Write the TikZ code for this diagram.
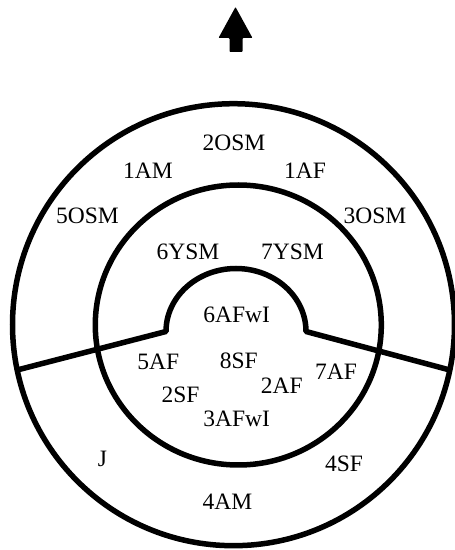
\documentclass[tikz,border=0pt]{standalone}
\usepackage{fontspec}
\setmainfont{Liberation Serif}
\begin{document}
\begin{tikzpicture}[x=1pt,y=1pt,
  ring/.style={line width=5.5pt, draw=black},
  lbl/.style={anchor=base, inner sep=0pt, font=\fontsize{23.5}{24}\selectfont}]
\useasboundingbox (0,0) rectangle (455,550);
% rings
\coordinate (O) at (233.5,225.3);
\coordinate (M) at (238.3,225);
\draw[ring] (O) circle[radius=221];
\draw[ring] (M) ellipse[x radius=143, y radius=140];
% dividing line with inner semicircle
\coordinate (Lout) at (17.2,180);
\coordinate (Rout) at (449.8,180);
\coordinate (Lin) at (166,218.5);
\coordinate (Rin) at (306,218.5);
\draw[ring, line join=round] (Lout) -- (Lin) arc[start angle=180, end angle=0, x radius=70, y radius=63] -- (Rout);
% north arrow
\fill[black, rounded corners=0.8pt] (235.5,543) -- (252.5,512) -- (242.5,512) -- (242.5,498)
  -- (229.5,498) -- (229.5,512) -- (218.5,512) -- cycle;
% labels
\node[lbl] (l2osm) at (234,399) {2OSM};
\node[lbl] (l1am) at (148,371.7) {1AM};
\node[lbl] (l1af) at (305,371.7) {1AF};
\node[lbl] (l5osm) at (87.5,326) {5OSM};
\node[lbl] (l3osm) at (375,326) {3OSM};
\node[lbl] (l6ysm) at (188,290.7) {6YSM};
\node[lbl] (l7ysm) at (292.5,290.7) {7YSM};
\node[lbl] (l6afwi) at (236.7,227.3) {6AFwI};
\node[lbl] (l5af) at (158.3,180) {5AF};
\node[lbl] (l8sf) at (238.8,181.7) {8SF};
\node[lbl] (l7af) at (336,170) {7AF};
\node[lbl] (l2af) at (281.7,156.7) {2AF};
\node[lbl] (l2sf) at (180.5,147.3) {2SF};
\node[lbl] (l3afwi) at (236.7,123.3) {3AFwI};
\node[lbl] (lj) at (102.5,83.3) {J};
\node[lbl] (l4sf) at (344,78.3) {4SF};
\node[lbl] (l4am) at (227.5,40) {4AM};
\end{tikzpicture}
\end{document}
